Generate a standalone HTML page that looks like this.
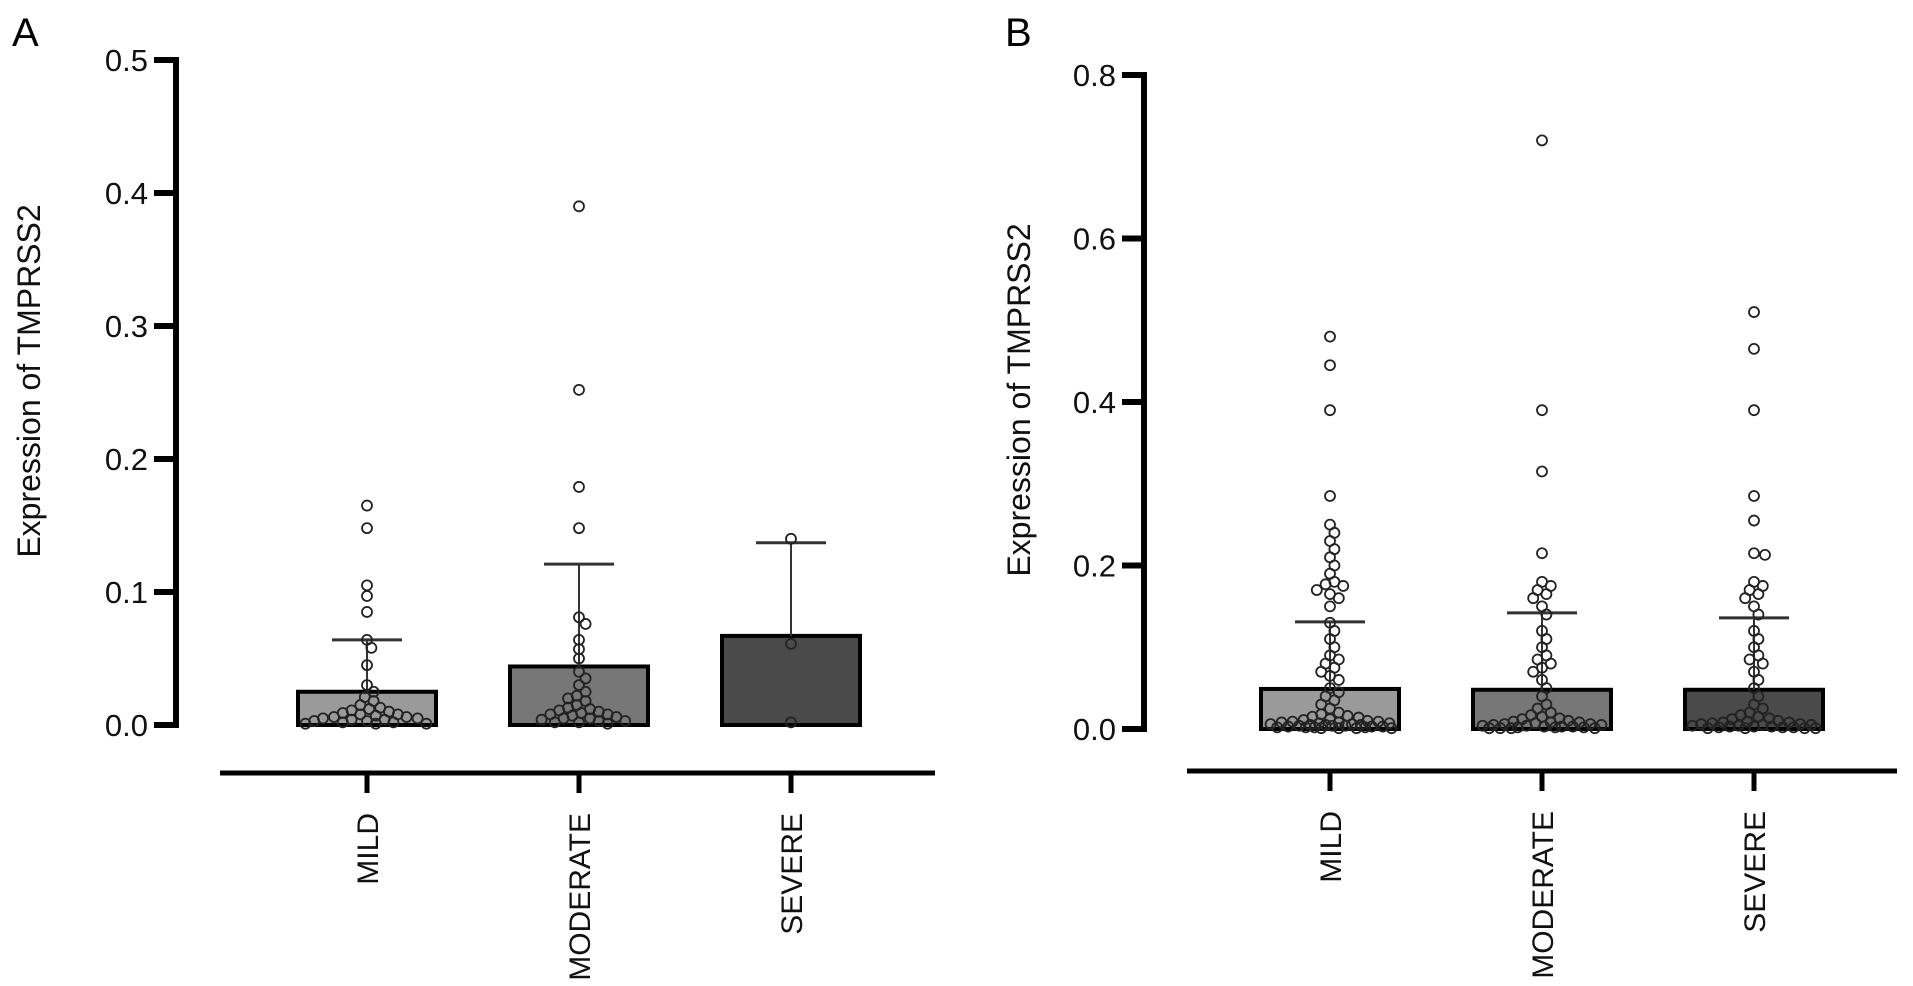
<!DOCTYPE html>
<html><head><meta charset="utf-8"><style>
html,body{margin:0;padding:0;background:#fff;}
svg{display:block;font-family:"Liberation Sans",Arial,sans-serif;}
</style></head><body>
<svg id="fig" width="1913" height="986" viewBox="0 0 1913 986">
<text x="12" y="46" font-size="40">A</text>
<text x="1005" y="46" font-size="40">B</text>
</svg>
<script>
const categories = ["MILD","MODERATE","SEVERE"];
const meansA = [0.025, 0.044, 0.067];
const sdA = [0.064, 0.121, 0.137];
const ticksA = [0, 0.1, 0.2, 0.3, 0.4, 0.5];
const tickLabelsA = ["0.0","0.1","0.2","0.3","0.4","0.5"];
const pointsAMild = [0.165,0.148,0.105,0.097,0.085,0.064,0.058,0.045,0.03,0.025,0.021,0.018,0.015,0.013,0.012,0.011,0.01,0.009,0.008,0.008,0.007,0.006,0.006,0.005,0.005,0.004,0.004,0.003,0.003,0.002,0.002,0.001,0.001,0.001];
const pointsAModerate = [0.39,0.252,0.179,0.148,0.081,0.076,0.064,0.057,0.05,0.04,0.035,0.03,0.025,0.022,0.02,0.018,0.015,0.013,0.012,0.011,0.01,0.009,0.008,0.008,0.007,0.006,0.005,0.005,0.004,0.003,0.003,0.002,0.002,0.001];
const pointsASevere = [0.14,0.061,0.002];

const meansB = [0.049, 0.048, 0.048];
const sdB = [0.131, 0.142, 0.136];
const ticksB = [0, 0.2, 0.4, 0.6, 0.8];
const tickLabelsB = ["0.0","0.2","0.4","0.6","0.8"];
const pointsBMild = [0.48,0.445,0.39,0.285,0.25,0.24,0.23,0.22,0.21,0.2,0.19,0.18,0.177,0.175,0.17,0.165,0.16,0.15,0.13,0.12,0.11,0.1,0.09,0.085,0.08,0.075,0.07,0.065,0.06,0.05,0.045,0.04,0.035,0.03,0.025,0.02,0.018,0.016,0.015,0.014,0.012,0.011,0.01,0.009,0.009,0.008,0.008,0.007,0.007,0.006,0.006,0.005,0.005,0.005,0.004,0.004,0.004,0.003,0.003,0.003,0.002,0.002,0.002,0.002,0.001,0.001,0.001,0.001];
const pointsBModerate = [0.72,0.39,0.315,0.215,0.18,0.175,0.17,0.165,0.16,0.15,0.14,0.12,0.11,0.1,0.09,0.085,0.08,0.075,0.07,0.06,0.05,0.04,0.03,0.025,0.02,0.017,0.015,0.013,0.012,0.01,0.009,0.008,0.008,0.007,0.006,0.006,0.005,0.005,0.004,0.004,0.003,0.003,0.003,0.002,0.002,0.002,0.001,0.001,0.001,0.001];
const pointsBSevere = [0.51,0.465,0.39,0.285,0.255,0.215,0.213,0.18,0.175,0.17,0.165,0.16,0.15,0.14,0.12,0.11,0.1,0.09,0.085,0.08,0.07,0.06,0.05,0.04,0.03,0.025,0.02,0.017,0.015,0.013,0.012,0.01,0.009,0.008,0.008,0.007,0.006,0.006,0.005,0.005,0.004,0.004,0.003,0.003,0.003,0.002,0.002,0.002,0.001,0.001,0.001,0.001];

const NS = "http://www.w3.org/2000/svg";
const svg = document.getElementById("fig");
function mk(tag, attrs, parent){
  const e = document.createElementNS(NS, tag);
  for (const k in attrs) e.setAttribute(k, attrs[k]);
  (parent||svg).appendChild(e);
  return e;
}
const fills = ["#9a9a9a","#777777","#4a4a4a"];

function panel(cfg){
  const g = mk("g", {});
  
  
  const y = v => cfg.y0 - (v - 0) / cfg.ymax * (cfg.y0 - cfg.yTop);
  const x = i => cfg.x0 + i * cfg.step;
  const ax = mk("line", {x1:cfg.axX, y1:cfg.yTop-3, x2:cfg.axX, y2:cfg.y0+3, stroke:"#000","stroke-width":6}, g);
  
  
  cfg.ticks.forEach((t, i) => {
    const tk = mk("line", {x1:cfg.axX-22, y1:y(t), x2:cfg.axX, y2:y(t), stroke:"#000","stroke-width":6}, g);
    
    
    const tl = mk("text", {x:cfg.axX-28, y:y(t)+11, "font-size":31, "text-anchor":"end", fill:"#111"}, g);
    tl.textContent = cfg.tickLabels[i];
    
    
  });
  const yt = mk("text", {x:0, y:0, "font-size":32, "text-anchor":"middle", fill:"#111",
    transform:`translate(${cfg.titleX},${cfg.titleY}) rotate(-90)`}, g);
  yt.textContent = "Expression of TMPRSS2";
  
  
  const xa = mk("line", {x1:cfg.xaL, y1:cfg.xaY, x2:cfg.xaR, y2:cfg.xaY, stroke:"#000","stroke-width":5}, g);
  
  
  categories.forEach((c, i) => {
    const tk = mk("line", {x1:x(i), y1:cfg.xaY, x2:x(i), y2:cfg.xaY+20, stroke:"#000","stroke-width":5}, g);
    
    
    const lb = mk("text", {x:0, y:0, "font-size":30, "text-anchor":"end", fill:"#111",
      transform:`translate(${x(i)+11},${cfg.xaY+40}) rotate(-90)`}, g);
    lb.textContent = c;
    
    
  });
  cfg.means.forEach((m, i) => {
    const b = mk("rect", {x:x(i)-69, y:y(m), width:138, height:y(0)-y(m), fill:fills[i], stroke:"#000","stroke-width":4}, g);
    
    
  });
  cfg.sd.forEach((s, i) => {
    const e1 = mk("line", {x1:x(i), y1:y(cfg.means[i]), x2:x(i), y2:y(s), stroke:"#333","stroke-width":2}, g);
    
    
    const e2 = mk("line", {x1:x(i)-35, y1:y(s), x2:x(i)+35, y2:y(s), stroke:"#333","stroke-width":3}, g);
    
    
  });
  const r = 5;
  const maxOff = 62;
  cfg.points.forEach((arr, i) => {
    const placed = [];
    const sorted = arr.slice().sort((a,b)=>b-a);
    sorted.forEach(v => {
      const py = y(v);
      let best = x(i), bestD = -1, found = false;
      for (let k = 0; k < 200; k++) {
        const off = (k % 2 ? 1 : -1) * Math.ceil(k / 2) * 2.2;
        if (Math.abs(off) > maxOff) break;
        const cx = x(i) + off;
        let md = Infinity;
        placed.forEach(p => { md = Math.min(md, (p[0]-cx)**2 + (p[1]-py)**2); });
        if (md >= (2*r-1)**2) { best = cx; found = true; break; }
        if (md > bestD) { bestD = md; best = cx; }
      }
      placed.push([best, py]);
      const c = mk("circle", {cx:best, cy:py, r:r, fill:"none", stroke:"#222","stroke-width":1.8}, g);
      
      
    });
  });
}

panel({name:"panel-a-chart", axX:176, yTop:60, y0:725, ymax:0.5, ticks:ticksA, tickLabels:tickLabelsA,
  titleX:40, titleY:381, xaL:220, xaR:935, xaY:773, x0:367, step:212,
  means:meansA, sd:sdA, points:[pointsAMild, pointsAModerate, pointsASevere]});
panel({name:"panel-b-chart", axX:1144, yTop:75, y0:729, ymax:0.8, ticks:ticksB, tickLabels:tickLabelsB,
  titleX:1030, titleY:400, xaL:1187, xaR:1897, xaY:771, x0:1330, step:212,
  means:meansB, sd:sdB, points:[pointsBMild, pointsBModerate, pointsBSevere]});
</script>
</body></html>
